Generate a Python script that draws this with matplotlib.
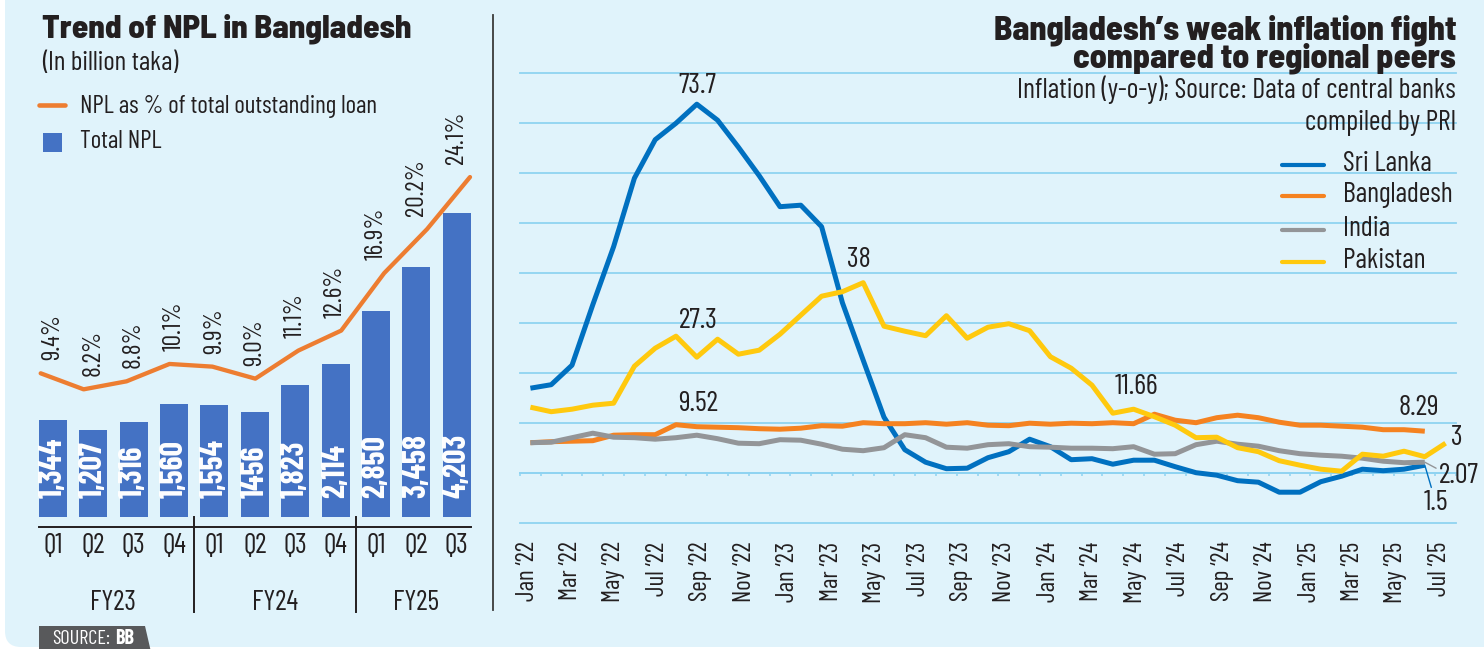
import numpy as np
import matplotlib
matplotlib.use("Agg")
import matplotlib.pyplot as plt
from matplotlib import font_manager
from matplotlib.lines import Line2D
from matplotlib.patches import Rectangle, Polygon, FancyBboxPatch
from matplotlib.transforms import blended_transform_factory, IdentityTransform

# ---- left panel: NPL ----
quarters = ["Q1", "Q2", "Q3", "Q4", "Q1", "Q2", "Q3", "Q4", "Q1", "Q2", "Q3"]
fiscal_years = ["FY23", "FY24", "FY25"]
fy_quarter_count = [4, 4, 3]
npl_total = [1344, 1207, 1316, 1560, 1554, 1456, 1823, 2114, 2850, 3458, 4203]
npl_labels = ["1,344", "1,207", "1,316", "1,560", "1,554", "1456",
              "1,823", "2,114", "2,850", "3,458", "4,203"]
npl_pct = [9.4, 8.2, 8.8, 10.1, 9.9, 9.0, 11.1, 12.6, 16.9, 20.2, 24.1]

# ---- right panel: inflation y-o-y, one value per month ----
month_labels = [f"{m} \u2018{y}" for y in ("22", "23", "24", "25")
                for m in ("Jan", "Mar", "May", "Jul", "Sep", "Nov")][:22]
nan = np.nan
sri_lanka = [16.9, 17.6, 21.5, 33.6, 45.2, 58.9, 66.6, 69.9, 73.7, 70.5,
             65.1, 59.4, 53.2, 53.5, 49.2, 34.0, 22.5, 11.1, 4.6, 2.1,
             0.8, 0.9, 3.0, 4.2, 6.7, 5.2, 2.6, 2.8, 1.7, 2.5,
             2.5, 1.2, 0.0, -0.5, -1.6, -1.9, -3.9, -3.9, -1.8, -0.7,
             0.7, 0.4, 0.7, 1.5, nan]
bangladesh = [6.0, 6.2, 6.3, 6.4, 7.5, 7.6, 7.6, 9.6, 9.2, 9.1,
              9.0, 8.8, 8.7, 8.9, 9.4, 9.3, 10.0, 9.8, 9.8, 10.0,
              9.7, 10.0, 9.5, 9.4, 9.9, 9.7, 9.9, 9.8, 10.0, 9.8,
              11.7, 10.5, 10.0, 11.0, 11.5, 11.0, 10.1, 9.5, 9.5, 9.3,
              9.1, 8.6, 8.6, 8.3, nan]
india = [6.0, 6.1, 7.0, 7.9, 7.1, 7.0, 6.7, 7.0, 7.5, 6.8,
         5.9, 5.8, 6.6, 6.5, 5.7, 4.7, 4.4, 5.0, 7.6, 7.0,
         5.1, 4.9, 5.6, 5.8, 5.2, 5.1, 4.9, 4.9, 4.8, 5.2,
         3.7, 3.8, 5.6, 6.3, 5.7, 5.3, 4.4, 3.8, 3.5, 3.3,
         2.9, 2.3, 2.0, 2.1, nan]
pakistan = [13.1, 12.2, 12.7, 13.5, 13.9, 21.3, 24.9, 27.3, 23.1, 26.7,
            23.7, 24.5, 27.7, 31.5, 35.3, 36.2, 38.0, 29.3, 28.3, 27.4,
            31.4, 26.9, 29.1, 29.8, 28.4, 23.2, 20.9, 17.5, 11.9, 12.7,
            11.2, 9.5, 7.0, 7.1, 5.0, 4.2, 2.4, 1.5, 0.7, 0.3,
            3.7, 3.3, 4.3, 3.2, 5.9]
country_names = ["Sri Lanka", "Bangladesh", "India", "Pakistan"]

# colours
BG = "#e0f3fb"
DARK = "#231f20"
BAR_BLUE = "#4472c4"
ORANGE = "#ed7d31"
GRID = "#8fd3f1"
C_SL, C_BD, C_IN, C_PK = "#0070c0", "#f58220", "#939598", "#ffc90e"

# fonts
names = {f.name for f in font_manager.fontManager.ttflist}
def pick(cands, default):
    for c in cands:
        if c in names:
            return c
    return default
NARROW = pick(["Barlow Condensed", "Roboto Condensed", "Fira Sans Condensed",
               "Pragati Narrow", "Liberation Sans Narrow"], "DejaVu Sans")
HEAVY = pick(["Barlow Semi Condensed", "Fira Sans", "Roboto"], "DejaVu Sans")
HW = 800

W, H = 1484, 649
fig = plt.figure(figsize=(W / 100, H / 100), dpi=100, facecolor="white")
renderer = fig.canvas.get_renderer()

def rect(x0, y0, x1, y1):
    return [x0 / W, 1 - y1 / H, (x1 - x0) / W, (y1 - y0) / H]

def fp(x, y):
    return (x / W, 1 - y / H)

def size_for(s, target, family, weight="normal"):
    # font size that makes string s about target pixels long
    t = fig.text(0, 0, s, fontsize=20, family=family, fontweight=weight)
    w = t.get_window_extent(renderer).width
    t.remove()
    return 20 * target / w

fs_title = size_for("Trend of NPL in Bangladesh", 369, HEAVY, HW)
fs_rtitle = size_for("Bangladesh\u2019s weak inflation fight", 461, HEAVY, HW)
fs_sub = size_for("Inflation (y-o-y); Source: Data of central banks", 439, NARROW)
fs_leg = size_for("NPL as % of total outstanding loan", 298, NARROW)
fs_paren = size_for("(In billion taka)", 137, NARROW)
fs_rleg = size_for("Bangladesh", 110, NARROW)
fs_month = size_for("Jan \u201822", 60, NARROW)
fs_q = size_for("FY23", 46, NARROW)
fs_pct = size_for("9.4%", 46, NARROW)
fs_bar = size_for("1,344", 60, NARROW, "bold")
fs_call = size_for("73.7", 38, NARROW)
fs_src = size_for("SOURCE:", 58, NARROW)

# light blue panel with rounded corner
fig.add_artist(FancyBboxPatch((5, 2), 1600, 800, boxstyle="round,pad=0,rounding_size=16",
                              transform=IdentityTransform(), facecolor=BG,
                              edgecolor="none", zorder=-10))

# ================= left panel =================
fig.text(*fp(42, 38), "Trend of NPL in Bangladesh", va="baseline", fontsize=fs_title,
         fontweight=HW, family=HEAVY, color=DARK)
fig.text(*fp(42, 70), "(In billion taka)", va="baseline", fontsize=fs_paren,
         family=NARROW, color=DARK)
fig.add_artist(Line2D([39 / W, 65 / W], [fp(0, 105)[1]] * 2, transform=fig.transFigure,
                      color=ORANGE, lw=3.3, solid_capstyle="round"))
fig.add_artist(Rectangle(fp(43.3, 151.7), 18.4 / W, 18.4 / H, transform=fig.transFigure,
                         facecolor=BAR_BLUE, edgecolor="none"))
fig.text(*fp(80, 106), "NPL as % of total outstanding loan", va="center", fontsize=fs_leg,
         family=NARROW, color=DARK)
fig.text(*fp(80, 142), "Total NPL", va="center", fontsize=fs_leg, family=NARROW, color=DARK)

axb = fig.add_axes(rect(30, 155.3, 480, 517.3))
axb.set_facecolor("none")
x_q = np.arange(len(quarters))
bar_w = 0.69
axb.bar(x_q, npl_total, width=bar_w, color=BAR_BLUE, zorder=2)
axb.set_xlim(-0.564, 10.574)
axb.set_ylim(0, 5000)
for s in ["top", "right", "left"]:
    axb.spines[s].set_visible(False)
axb.spines["bottom"].set_position(("outward", 7))
axb.spines["bottom"].set_bounds(-bar_w / 2, len(quarters) - 1 + bar_w / 2)
axb.spines["bottom"].set_color(DARK)
axb.spines["bottom"].set_linewidth(1.4)
axb.set_yticks([])
axb.set_xticks(x_q, quarters)
axb.tick_params(axis="x", length=0, pad=4, labelsize=fs_q, labelcolor=DARK)
for lab in axb.get_xticklabels():
    lab.set_fontfamily(NARROW)

for xi, lab in zip(x_q, npl_labels):
    axb.annotate(lab, (xi, 0), xytext=(0, 19), textcoords="offset pixels", rotation=90,
                 ha="center", va="bottom", color="white", fontweight="bold",
                 fontsize=fs_bar, family=NARROW, zorder=4)

tr_b = blended_transform_factory(axb.transData, axb.transAxes)
start = 0
for fy, n in zip(fiscal_years, fy_quarter_count):
    idx = np.arange(start, start + n)
    axb.text(idx.mean(), -0.237, fy, transform=tr_b, ha="center", va="center",
             fontsize=fs_q, family=NARROW, color=DARK)
    if start + n < len(quarters):
        sx = start + n - 0.5
        axb.add_line(Line2D([sx, sx], [0, -0.261], transform=tr_b, color=DARK,
                            lw=1.4, clip_on=False))
    start += n

axl = fig.add_axes(rect(30, 155.3, 480, 517.3))
axl.set_facecolor("none")
axl.axis("off")
axl.plot(x_q, npl_pct, color=ORANGE, lw=3.1, solid_capstyle="round", zorder=3)
axl.set_xlim(-0.249, 10.233)
axl.set_ylim(-1.386, 25.73)
for xi, v in zip(x_q, npl_pct):
    axl.annotate(f"{v:.1f}%", xy=(xi, v), xycoords=(axb.transData, axl.transData),
                 xytext=(0, 13), textcoords="offset pixels", rotation=90,
                 ha="center", va="bottom", fontsize=fs_pct, family=NARROW, color=DARK)

# divider
fig.add_artist(Line2D([493.3 / W] * 2, [fp(0, 15)[1], fp(0, 610)[1]],
                      transform=fig.transFigure, color="#3a3a3a", lw=1.3))

# source box
fig.add_artist(Polygon([fp(39, 652), fp(39, 626), fp(145, 626), fp(151, 652)],
                       closed=True, transform=fig.transFigure, facecolor="#58595b",
                       edgecolor="none"))
src = fig.text(*fp(52, 639), "SOURCE:", va="center", fontsize=fs_src, family=NARROW,
               color="white")
src_right = src.get_window_extent(renderer).x1
fig.text(src_right / W + 5 / W, fp(0, 639)[1], "BB", va="center", fontsize=fs_src,
         fontweight="bold", family=NARROW, color="white")

# ================= right panel =================
fig.text(*fp(1456, 15), "Bangladesh\u2019s weak inflation fight\ncompared to regional peers",
         ha="right", va="top", multialignment="right", linespacing=0.86,
         fontsize=fs_rtitle, fontweight=HW, family=HEAVY, color=DARK)
fig.text(*fp(1456, 98), "Inflation (y-o-y); Source: Data of central banks", ha="right",
         va="baseline", fontsize=fs_sub, family=NARROW, color=DARK)
fig.text(*fp(1456, 130), "compiled by PRI", ha="right", va="baseline",
         fontsize=fs_sub, family=NARROW, color=DARK)

axr = fig.add_axes(rect(520, 72.7, 1456, 522.7))
axr.set_facecolor("none")
x_m = np.arange(len(sri_lanka))
series = [sri_lanka, bangladesh, india, pakistan]
colors = [C_SL, C_BD, C_IN, C_PK]
for vals, c in zip(series, colors):
    axr.plot(x_m, vals, color=c, lw=3.6, solid_capstyle="butt", zorder=3)

axr.set_xlim(-0.5, len(x_m) - 0.5)
axr.set_ylim(-10, 80)
axr.set_yticks(np.arange(-10, 81, 10))
axr.tick_params(axis="y", length=0, labelleft=False)
axr.grid(axis="y", color=GRID, lw=1.3)
for gl in axr.get_ygridlines():
    gl.set_clip_on(False)
axr.set_axisbelow(True)
for s in ["top", "right", "left"]:
    axr.spines[s].set_visible(False)
axr.spines["bottom"].set_position(("data", 0))
axr.spines["bottom"].set_color(GRID)
axr.spines["bottom"].set_linewidth(1.3)
label_pos = np.linspace(-0.16, 43.7, len(month_labels))
axr.set_xticks(label_pos, month_labels, rotation=90)
axr.set_xticks(np.arange(-0.5, len(x_m), 1), minor=True)
axr.tick_params(axis="x", which="major", length=0, pad=49.5, labelsize=fs_month,
                labelcolor=DARK)
axr.tick_params(axis="x", which="minor", length=2.5, width=1.1, color=GRID, direction="out")
for lab in axr.get_xticklabels():
    lab.set_fontfamily(NARROW)

callouts = [
    (sri_lanka, 8, "73.7", (1, 18)),
    (pakistan, 7, "27.3", (22, 15)),
    (bangladesh, 7, "9.52", (22, 21)),
    (pakistan, 16, "38", (-4, 23)),
    (bangladesh, 30, "11.66", (-18, 27)),
    (bangladesh, 43, "8.29", (-6, 23)),
    (pakistan, 44, "3", (11, 5)),
]
for vals, i, txt, off in callouts:
    axr.annotate(txt, (i, vals[i]), xytext=off, textcoords="offset pixels",
                 ha="center", va="center", fontsize=fs_call, family=NARROW, color=DARK)
axr.annotate("2.07", (43, india[43]), xytext=(34, -14), textcoords="offset pixels",
             ha="center", va="center", fontsize=fs_call, family=NARROW, color=DARK,
             arrowprops=dict(arrowstyle="-", color=C_IN, lw=1, relpos=(0, 0.75),
                             shrinkA=0, shrinkB=0))
axr.annotate("1.5", (43, sri_lanka[43]), xytext=(11, -38), textcoords="offset pixels",
             ha="center", va="center", fontsize=fs_call, family=NARROW, color=DARK,
             arrowprops=dict(arrowstyle="-", color=C_SL, lw=1, relpos=(0.35, 1),
                             shrinkA=0, shrinkB=0))

# legend (right)
for yy, name, c in zip([165.3, 196, 229.7, 262.3], country_names, colors):
    fig.add_artist(Line2D([1282 / W, 1324 / W], [fp(0, yy)[1]] * 2,
                          transform=fig.transFigure, color=c, lw=3.0,
                          solid_capstyle="round"))
    fig.text(*fp(1343, yy - 1), name, va="center", fontsize=fs_rleg, family=NARROW,
             color=DARK)

fig.savefig("out.png", dpi=100, facecolor=fig.get_facecolor())
